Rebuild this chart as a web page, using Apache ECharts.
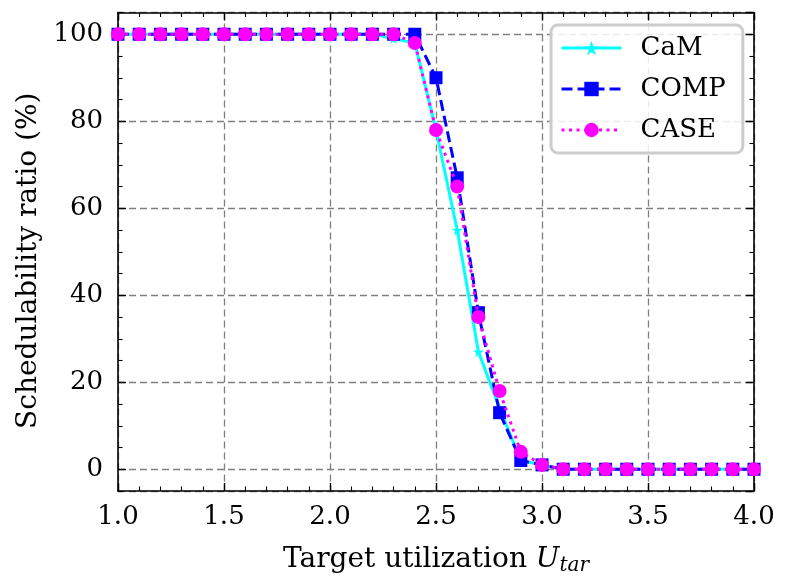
<!DOCTYPE html>
<html>
<head>
<meta charset="utf-8">
<script src="https://cdn.jsdelivr.net/npm/echarts@6/dist/echarts.min.js"></script>
<style>
html,body{margin:0;padding:0;background:#fff;}
#chart{width:790px;height:588px;}
</style>
</head>
<body>
<div id="chart"></div>
<script>
const xValues = [1.0,1.1,1.2,1.3,1.4,1.5,1.6,1.7,1.8,1.9,2.0,2.1,2.2,2.3,2.4,2.5,2.6,2.7,2.8,2.9,3.0,3.1,3.2,3.3,3.4,3.5,3.6,3.7,3.8,3.9,4.0];
const camValues = [100,100,100,100,100,100,100,100,100,100,100,100,100,99,98,78,55,27,14,2,1,0,0,0,0,0,0,0,0,0,0];
const compValues = [100,100,100,100,100,100,100,100,100,100,100,100,100,100,100,90,67,36,13,2,1,0,0,0,0,0,0,0,0,0,0];
const caseValues = [100,100,100,100,100,100,100,100,100,100,100,100,100,100,98,78,65,35,18,4,1,0,0,0,0,0,0,0,0,0,0];
const seriesNames = ['CaM','COMP','CASE'];
const xTitle = 'Target utilization ';
const yTitle = 'Schedulability ratio (%)';

const pair = v => xValues.map((x,i)=>[x,v[i]]);
const FONT = "'DejaVu Serif', 'Liberation Serif', serif";
const STAR = 'path://M50,0 L61,35 L98,35 L68,57 L79,91 L50,70 L21,91 L32,57 L2,35 L39,35 Z';

const chart = echarts.init(document.getElementById('chart'), null, {renderer:'canvas'});
const axisLine = {show:true, onZero:false, lineStyle:{color:'#000', width:1.6}};
const hiddenLine = {show:false, onZero:false};
const majorTick = {show:true, inside:true, length:8, lineStyle:{color:'#000', width:1.4}};
const minorTickAx = {show:true, inside:true, length:4.5, lineStyle:{color:'#000', width:1.1}};
const gridLine = {show:true, lineStyle:{color:'#7f7f7f', type:[7,4], width:1.3}};

chart.setOption({
  animation:false,
  backgroundColor:'#fff',
  grid:{left:118, right:36, top:12.5, bottom:97, containLabel:false},
  legend:{
    orient:'vertical', left:551, top:25,
    backgroundColor:'rgba(255,255,255,0.85)',
    borderColor:'#cccccc', borderWidth:3, borderRadius:7,
    padding:[9,17,9,9],
    itemWidth:60, itemHeight:18, itemGap:13,
    lineStyle:{width:3},
    textStyle:{fontFamily:FONT, fontSize:26, color:'#000', lineHeight:28, padding:[0,0,0,14]},
    data:seriesNames.map(n=>({name:n, lineStyle:{width:3}}))
  },
  xAxis:[
    {type:'value', min:1, max:4, interval:0.5, position:'bottom',
     axisLine:axisLine, axisTick:majorTick,
     minorTick:{show:true, splitNumber:5, length:4.5, lineStyle:{color:'#000', width:1.1}},
     splitLine:gridLine,
     axisLabel:{fontFamily:FONT, fontSize:26, color:'#000', margin:13, formatter:v=>v.toFixed(1)},
     name:'{a|'+xTitle+'}{b|U}{c|tar}', nameLocation:'middle', nameGap:53,
     nameTextStyle:{rich:{
       a:{fontFamily:FONT, fontSize:28, color:'#000'},
       b:{fontFamily:FONT, fontSize:28, fontStyle:'italic', color:'#000'},
       c:{fontFamily:FONT, fontSize:20, fontStyle:'italic', color:'#000', padding:[12,0,0,0]}
     }}},
    {type:'value', min:1, max:4, interval:0.5, position:'top',
     axisLine:axisLine, axisTick:majorTick,
     minorTick:{show:true, splitNumber:5, length:4.5, lineStyle:{color:'#000', width:1.1}},
     splitLine:{show:false}, axisLabel:{show:false}}
  ],
  yAxis:[
    {type:'value', min:-5, max:105, splitNumber:5, position:'left',
     axisLine:axisLine, axisTick:majorTick, splitLine:gridLine,
     axisLabel:{fontFamily:FONT, fontSize:26, color:'#000', margin:15, showMinLabel:false, showMaxLabel:false},
     name:yTitle, nameLocation:'middle', nameGap:75,
     nameTextStyle:{fontFamily:FONT, fontSize:28, color:'#000', padding:[0,18,0,0]}},
    {type:'value', min:-5, max:105, interval:5, position:'left',
     axisLine:hiddenLine, axisTick:minorTickAx, splitLine:{show:false}, axisLabel:{show:false}},
    {type:'value', min:-5, max:105, splitNumber:5, position:'right',
     axisLine:axisLine, axisTick:majorTick, splitLine:{show:false}, axisLabel:{show:false}},
    {type:'value', min:-5, max:105, interval:5, position:'right',
     axisLine:hiddenLine, axisTick:minorTickAx, splitLine:{show:false}, axisLabel:{show:false}}
  ],
  series:[
    {name:seriesNames[0], type:'line', data:pair(camValues), symbol:STAR, symbolSize:11,
     itemStyle:{color:'#00FFFF'}, lineStyle:{color:'#00FFFF', width:3, type:'solid'}, z:2},
    {name:seriesNames[1], type:'line', data:pair(compValues), symbol:'rect', symbolSize:13,
     itemStyle:{color:'#0000FF'}, lineStyle:{color:'#0000FF', width:3, type:[11,5]}, z:3},
    {name:seriesNames[2], type:'line', data:pair(caseValues), symbol:'circle', symbolSize:14,
     itemStyle:{color:'#FF00FF'}, lineStyle:{color:'#FF00FF', width:3, type:[3,4.5]}, z:4}
  ]
});
</script>
</body>
</html>
